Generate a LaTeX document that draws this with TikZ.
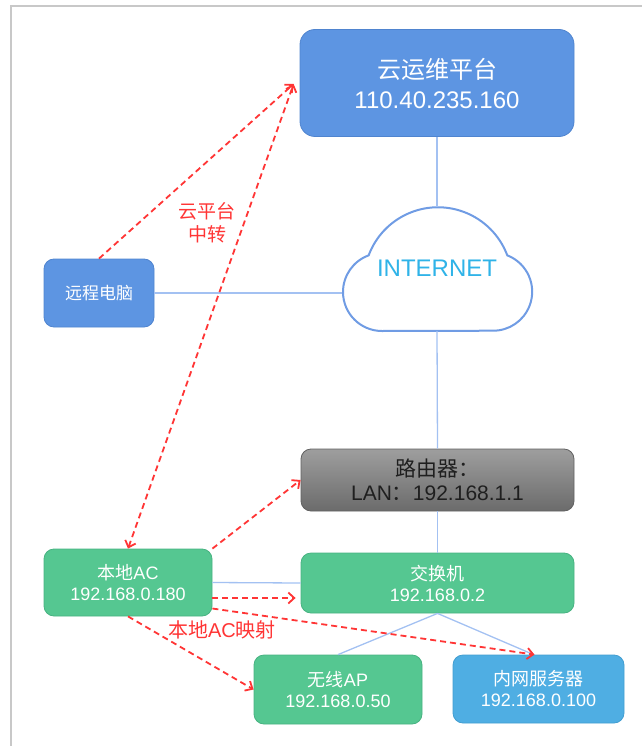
\documentclass[tikz,border=0pt]{standalone}
\usepackage{fontspec}
\setmainfont{Liberation Sans}
\newfontfamily\cjk{Noto Sans CJK SC}
\usetikzlibrary{arrows.meta,calc}

\definecolor{topblue}{HTML}{5D95E2}
\definecolor{topblueline}{HTML}{4F84CF}
\definecolor{acgreen}{HTML}{55C791}
\definecolor{acgreenline}{HTML}{47B281}
\definecolor{srvblue}{HTML}{4FAEE3}
\definecolor{srvblueline}{HTML}{419DD0}
\definecolor{wire}{HTML}{A3C1F2}
\definecolor{cloudline}{HTML}{709CE4}
\definecolor{inettext}{HTML}{2FB3E8}
\definecolor{relayred}{HTML}{FF3535}
\definecolor{framegray}{HTML}{C8C8C8}

\tikzset{
  devbox/.style={rectangle, rounded corners=10pt, inner sep=0pt, align=center,
    text=white, line width=0.8pt},
  bluebox/.style={devbox, fill=topblue, draw=topblueline},
  greenbox/.style={devbox, fill=acgreen, draw=acgreenline,
    font=\fontsize{18}{21}\selectfont},
  serverbox/.style={devbox, fill=srvblue, draw=srvblueline,
    font=\fontsize{18}{21}\selectfont},
  routerbox/.style={devbox, top color=black!38, bottom color=black!58,
    draw=black!62, text=black!88, font=\fontsize{21}{24}\selectfont},
  wireline/.style={draw=wire, line width=1.3pt},
  relay/.style={draw=relayred, line width=1.8pt, dash pattern=on 6pt off 4pt,
    -{Straight Barb[length=6pt,width=11pt,line width=1.8pt]}},
  relaylabel/.style={text=relayred, align=center, inner sep=0pt}
}

\begin{document}
\begin{tikzpicture}[x=1pt,y=-1pt]
\useasboundingbox (0,0) rectangle (642,746);

% page frame
\draw[framegray, line width=2pt] (11,746) -- (11,6) -- (642,6);

% devices
\node[bluebox, rounded corners=15pt, minimum width=274pt, minimum height=107pt,
  font=\fontsize{24}{30}\selectfont] (cloudsrv) at (437,83)
  {{\cjk 云运维平台}\\110.40.235.160};
\node[bluebox, minimum width=110pt, minimum height=68pt,
  font=\fontsize{17}{20}\selectfont] (rpc) at (99,293) {\cjk 远程电脑};
\node[routerbox, minimum width=273pt, minimum height=62pt] (router) at (437.5,480)
  {{\cjk 路由器：}\\LAN{\cjk ：}192.168.1.1};
\node[greenbox, minimum width=273pt, minimum height=60pt] (sw) at (437.5,583)
  {{\cjk 交换机}\\192.168.0.2};
\node[greenbox, minimum width=168pt, minimum height=67pt] (ac) at (128,582.5)
  {{\cjk 本地}AC\\192.168.0.180};
\node[greenbox, minimum width=168pt, minimum height=69pt] (ap) at (338,689.5)
  {{\cjk 无线}AP\\192.168.0.50};
\node[serverbox, minimum width=171pt, minimum height=68pt] (srv) at (538.5,689)
  {{\cjk 内网服务器}\\192.168.0.100};

% internet cloud (arc angles are measured on the canvas, y pointing up)
\draw[cloudline, fill=white, line width=2pt]
  (382,331) arc[start angle=-90, end angle=-250, radius=39pt]
  arc[start angle=-200.5, end angle=-339.5, radius=74pt]
  arc[start angle=68.8, end angle=-90, radius=39pt] -- cycle;
\coordinate (cltop) at (437,207);
\coordinate (clleft) at (342,293);
\coordinate (clbot) at (437,331);
\node[text=inettext, font=\fontsize{24}{28}\selectfont, inner sep=0pt] (inet)
  at (437,268) {INTERNET};

% cabling
\draw[wireline] (cloudsrv.south) -- (cltop);
\draw[wireline] (rpc.east) -- (clleft);
\draw[wireline] (clbot) -- (router.north);
\draw[wireline] (router.south) -- (sw.north);
\draw[wireline] (ac.east) -- (sw.west);
\draw[wireline] (sw.south) -- (ap.north);
\draw[wireline] (sw.south) -- ($(srv.north)+(-5,0)$);

% relayed and mapped access paths
\coordinate (relaytip) at ($(cloudsrv.west)+(-6,1)$);
\draw[relay] (rpc.north) -- (relaytip);
\draw[relay, {Straight Barb[length=6pt,width=11pt,line width=1.8pt]}-{Straight Barb[length=6pt,width=11pt,line width=1.8pt]}]
  (ac.north) -- (relaytip);
\draw[relay] (ac.north east) -- (router.west);
\draw[relay] ($(ac.east)+(0,15.5)$) -- ($(sw.west)+(-5,15)$);
\draw[relay] ($(ac.east)+(0,26)$) -- ($(srv.north)+(-4,0)$);
\draw[relay] (ac.south) -- (ap.west);

\node[relaylabel, font=\cjk\fontsize{19}{23}\selectfont] (relaytxt) at (207,223)
  {云平台\\中转};
\node[relaylabel, font=\fontsize{20}{24}\selectfont] (maptxt) at (222,630)
  {{\cjk 本地}AC{\cjk 映射}};
\end{tikzpicture}
\end{document}
